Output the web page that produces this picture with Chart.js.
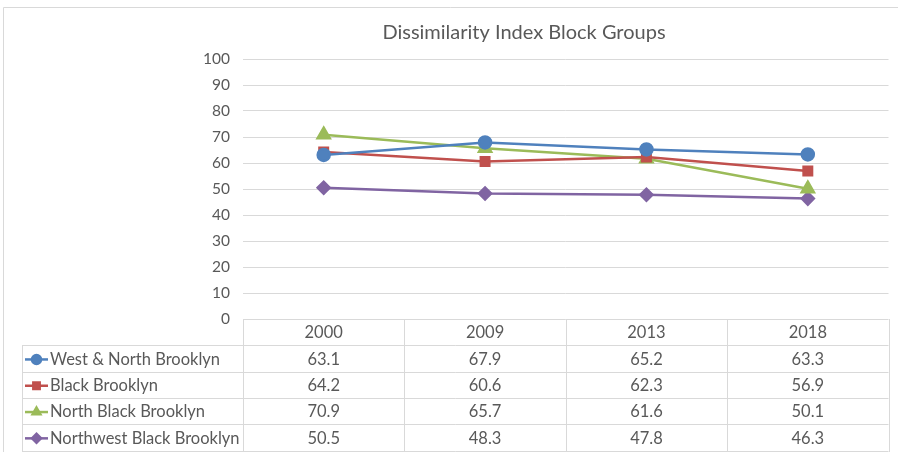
<!DOCTYPE html>
<html>
<head>
<meta charset="utf-8">
<script src="https://cdn.jsdelivr.net/npm/chart.js@4"></script>
<style>
  html, body { margin: 0; padding: 0; background: #fff; }
  #wrap { width: 898px; height: 452px; position: relative; }
</style>
</head>
<body>
<div id="wrap"><canvas id="chart" width="898" height="452"></canvas></div>
<script>
// chart data
var years = ['2000', '2009', '2013', '2018'];
var seriesNames = ['West & North Brooklyn', 'Black Brooklyn', 'North Black Brooklyn', 'Northwest Black Brooklyn'];
var westNorth = [63.1, 67.9, 65.2, 63.3];
var blackBk = [64.2, 60.6, 62.3, 56.9];
var northBlack = [70.9, 65.7, 61.6, 50.1];
var northwestBlack = [50.5, 48.3, 47.8, 46.3];
var yTicks = [0, 10, 20, 30, 40, 50, 60, 70, 80, 90, 100];

var colors = ['#4F81BD', '#C0504D', '#9BBB59', '#8064A2'];
var markers = ['circle', 'rect', 'triangle', 'rectRot'];
var allValues = [westNorth, blackBk, northBlack, northwestBlack];

var FONT = 'Lato, Calibri, sans-serif';
var TEXT = '#595959';
var GRID = '#D9D9D9';

var datasets = allValues.map(function(vals, i) {
	return {
		label: seriesNames[i],
		data: vals,
		borderColor: colors[i],
		backgroundColor: colors[i],
		borderWidth: 2.5,
		pointStyle: markers[i],
		pointRadius: markers[i] == 'triangle' ? 7 : 6,
		pointHoverRadius: 6,
		tension: 0
	};
});

// draws the frame, the title and the Excel style data table under the plot
var tablePlugin = {
	id: 'dataTable',
	beforeDraw: function(chart) {
		var ctx = chart.ctx;
		ctx.save();
		ctx.strokeStyle = GRID;
		ctx.lineWidth = 1;
		ctx.beginPath();
		ctx.moveTo(3.5, 452);
		ctx.lineTo(3.5, 7.5);
		ctx.lineTo(898, 7.5);
		ctx.stroke();
		ctx.restore();
	},
	afterDraw: function(chart) {
		var ctx = chart.ctx;
		var x = chart.scales.x;
		var area = chart.chartArea;
		var rowH = 26.3;
		var top = area.bottom;
		var half = (area.right - area.left) / years.length / 2;
		var tableLeft = 22;

		ctx.save();
		// title
		ctx.fillStyle = TEXT;
		ctx.font = '20px ' + FONT;
		ctx.textAlign = 'center';
		ctx.textBaseline = 'middle';
		ctx.fillText('Dissimilarity Index Block Groups', 524, 33);

		ctx.strokeStyle = GRID;
		ctx.lineWidth = 1;
		ctx.beginPath();
		// vertical column lines
		for (var c = 0; c <= years.length; c++) {
			var vx = Math.round(area.left + c * half * 2) + 0.5;
			ctx.moveTo(vx, top);
			ctx.lineTo(vx, 452);
		}
		ctx.moveTo(tableLeft + 0.5, top + rowH);
		ctx.lineTo(tableLeft + 0.5, 452);
		// horizontal row lines
		for (var r = 1; r <= 5; r++) {
			var hy = Math.round(top + r * rowH) + 0.5;
			ctx.moveTo(tableLeft, hy);
			ctx.lineTo(area.right, hy);
		}
		ctx.stroke();

		ctx.font = '16.5px ' + FONT;
		ctx.fillStyle = TEXT;
		ctx.textAlign = 'center';
		years.forEach(function(y, i) {
			ctx.fillText(y, x.getPixelForValue(i), top + rowH / 2 + 1);
		});

		allValues.forEach(function(vals, s) {
			var cy = top + rowH * (s + 1) + rowH / 2 + 1;
			// legend key
			ctx.strokeStyle = colors[s];
			ctx.lineWidth = 2.5;
			ctx.beginPath();
			ctx.moveTo(25, cy);
			ctx.lineTo(48, cy);
			ctx.stroke();
			Chart.helpers.drawPoint(ctx, {
				pointStyle: markers[s],
				radius: 4.5,
				rotation: 0,
				borderWidth: 1
			}, 36.5, cy);
			ctx.fillStyle = colors[s];
			ctx.fill();

			ctx.fillStyle = TEXT;
			ctx.textAlign = 'left';
			ctx.fillText(seriesNames[s], 50, cy);
			ctx.textAlign = 'center';
			vals.forEach(function(v, i) {
				ctx.fillText(v.toFixed(1), x.getPixelForValue(i), cy);
			});
		});
		ctx.restore();
	}
};

var ctx = document.getElementById('chart').getContext('2d');
var myChart = new Chart(ctx, {
	type: 'line',
	data: {
		labels: years,
		datasets: datasets
	},
	options: {
		responsive: false,
		animation: false,
		layout: {
			padding: { top: 59, bottom: 133, left: 0, right: 9 }
		},
		plugins: {
			legend: { display: false },
			title: { display: false },
			tooltip: { enabled: false }
		},
		scales: {
			x: {
				display: false,
				offset: true
			},
			y: {
				min: 0,
				max: 100,
				afterFit: function(scale) { scale.width = 243; },
				afterBuildTicks: function(scale) {
					scale.ticks = yTicks.map(function(v) { return { value: v }; });
				},
				border: { display: false },
				grid: { color: GRID, lineWidth: 1, drawTicks: false },
				ticks: {
					color: TEXT,
					padding: 13,
					font: { family: FONT, size: 15.5 }
				}
			}
		}
	},
	plugins: [tablePlugin]
});
</script>
</body>
</html>
